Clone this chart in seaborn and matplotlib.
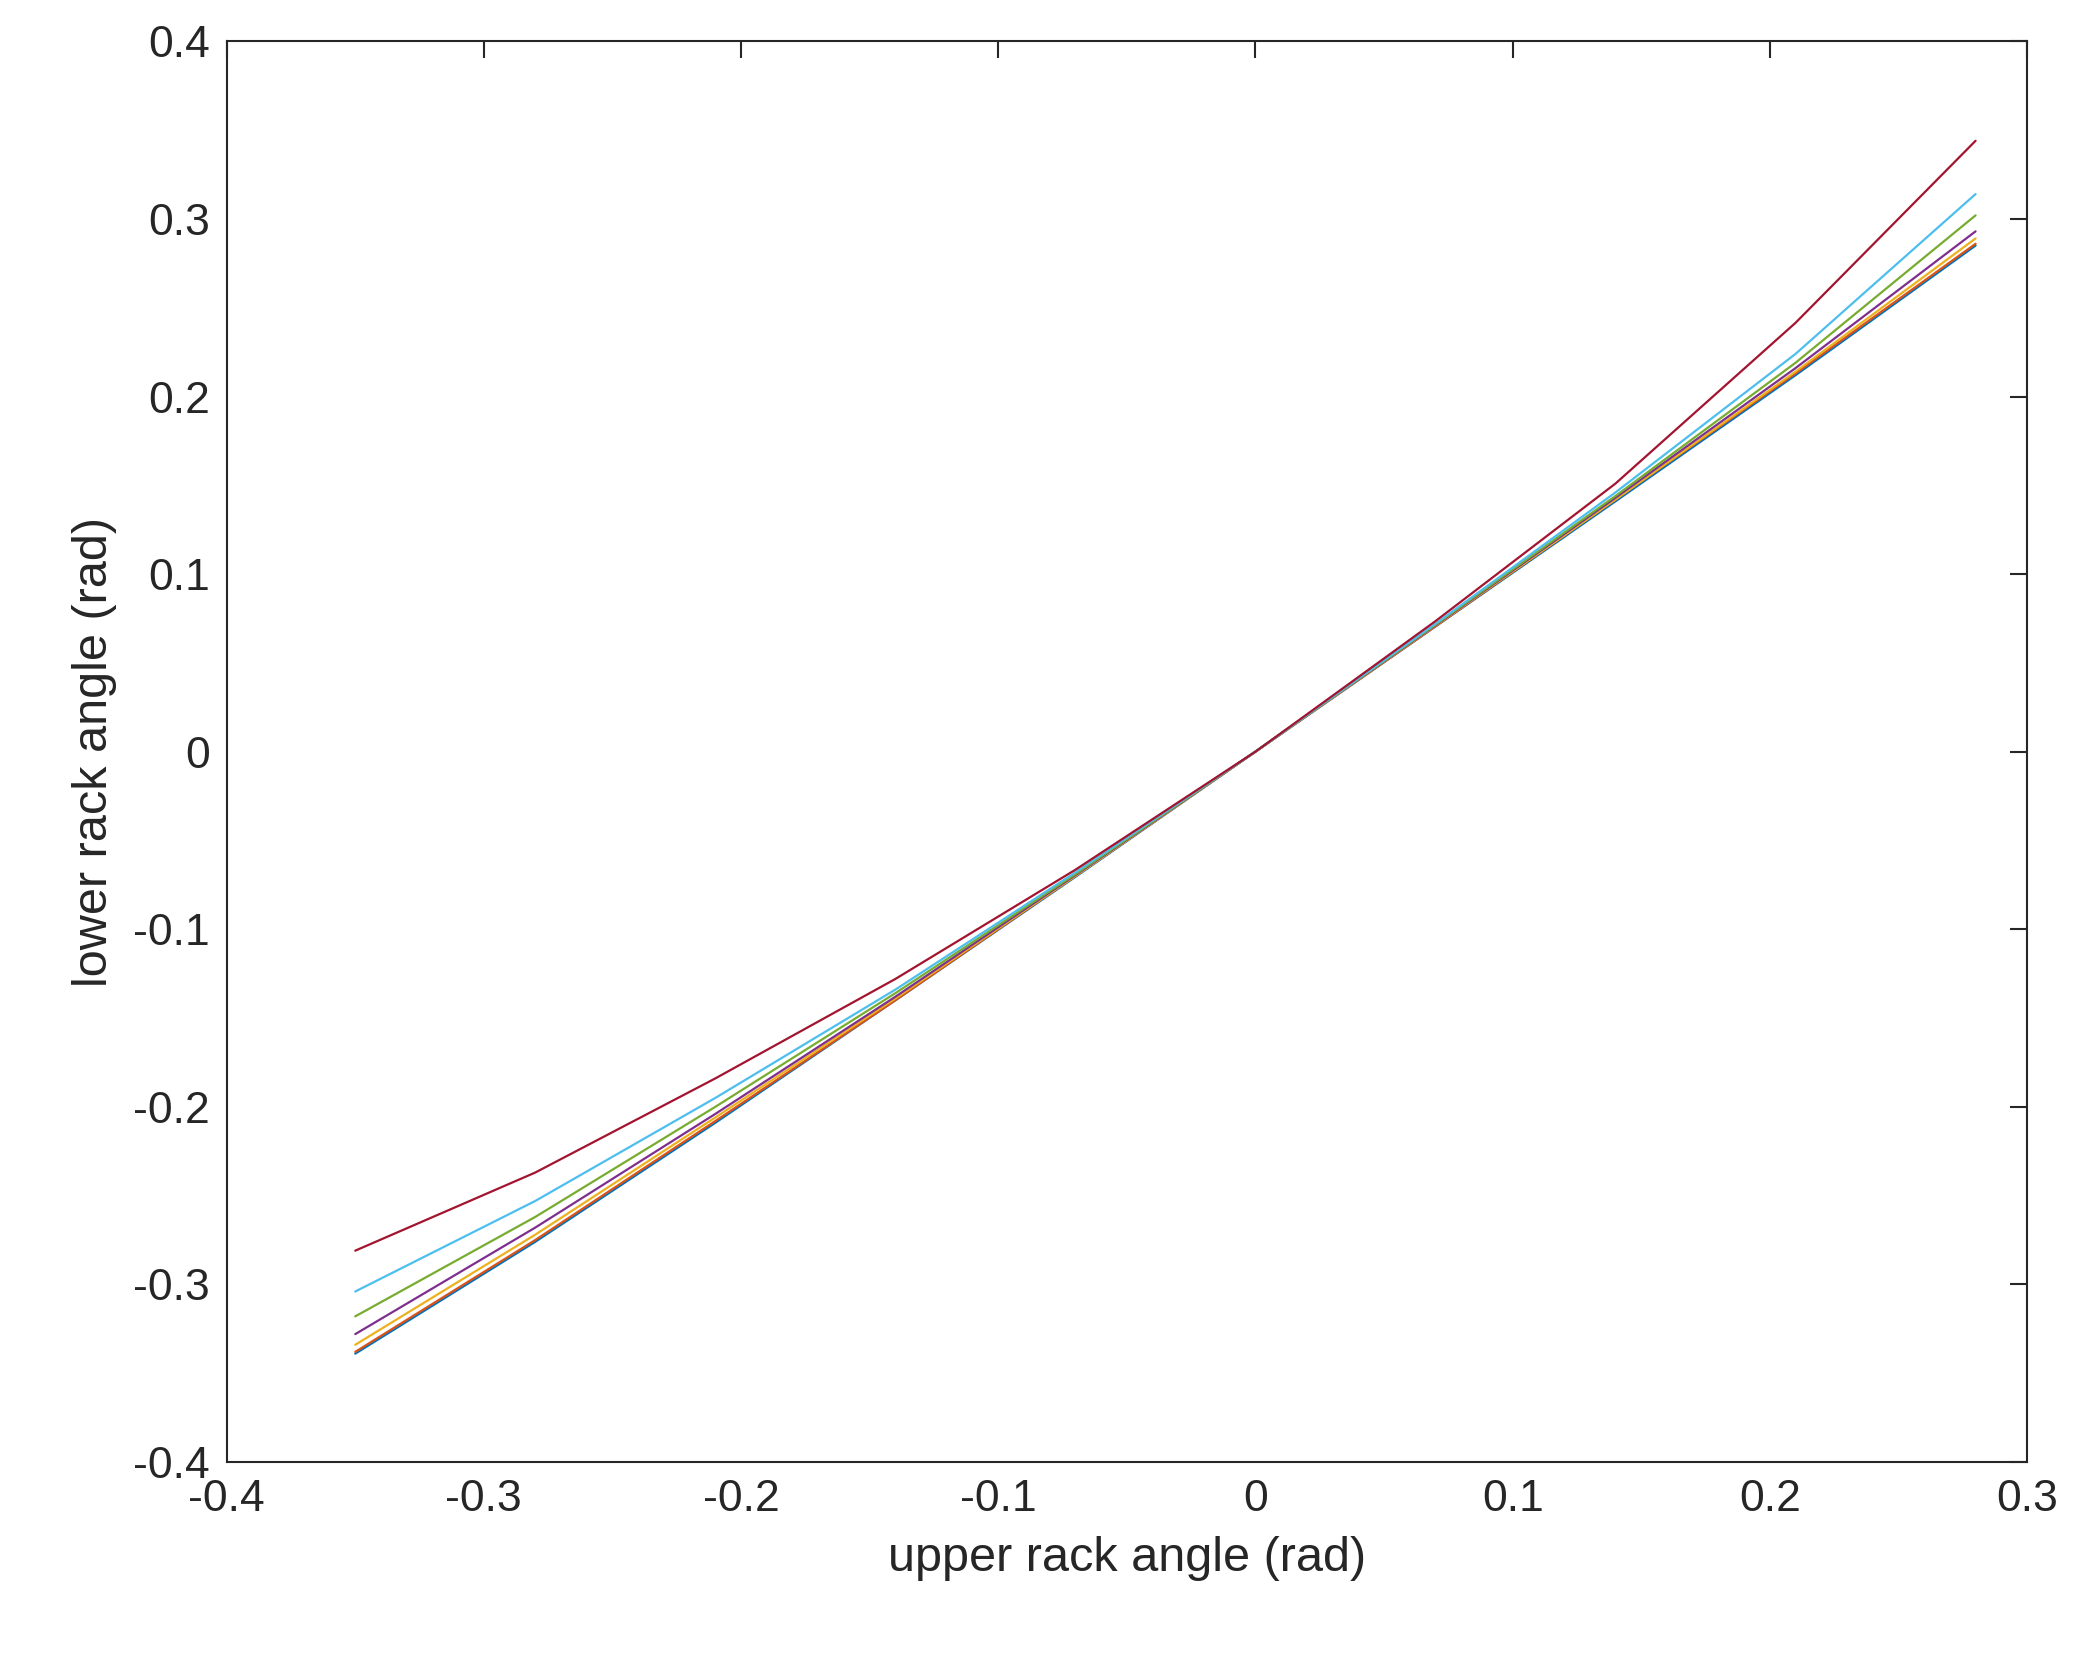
import matplotlib
matplotlib.use("Agg")
import matplotlib.pyplot as plt
import seaborn as sns
import pandas as pd

sns.set_style("white")
plt.rcParams['font.family'] = ['Liberation Sans', 'DejaVu Sans']

x = [-0.35, -0.28, -0.21, -0.14, -0.07, 0.0, 0.07, 0.14, 0.21, 0.28]
s_blue = [-0.339, -0.276, -0.209, -0.140, -0.0705, 0, 0.0705, 0.141, 0.212, 0.285]
s_orange = [-0.338, -0.275, -0.208, -0.140, -0.070, 0, 0.0706, 0.142, 0.213, 0.286]
s_yellow = [-0.334, -0.272, -0.206, -0.139, -0.070, 0, 0.071, 0.142, 0.214, 0.289]
s_purple = [-0.328, -0.268, -0.204, -0.138, -0.0695, 0, 0.0712, 0.143, 0.216, 0.293]
s_green = [-0.318, -0.262, -0.200, -0.136, -0.069, 0, 0.0715, 0.144, 0.219, 0.302]
s_lblue = [-0.304, -0.253, -0.195, -0.134, -0.068, 0, 0.072, 0.146, 0.224, 0.314]
s_red = [-0.281, -0.237, -0.184, -0.128, -0.0665, 0, 0.0735, 0.151, 0.2415, 0.344]

series = [s_blue, s_orange, s_yellow, s_purple, s_green, s_lblue, s_red]
colors = ["#0072BD", "#D95319", "#EDB120", "#7E2F8E", "#77AC30", "#4DBEEE", "#A2142F"]

fig = plt.figure(figsize=(20.91, 16.54), dpi=100)
ax = fig.add_axes([0.1084, 0.1161, 0.8610, 0.8589])
for s, c in zip(series, colors):
    df = pd.DataFrame({"x": x, "y": s})
    sns.lineplot(data=df, x="x", y="y", color=c, linewidth=1.6, ax=ax, sort=False)

ax.set_xlim(-0.4, 0.3)
ax.set_ylim(-0.4, 0.4)
xt = [-0.4, -0.3, -0.2, -0.1, 0, 0.1, 0.2, 0.3]
yt = [-0.4, -0.3, -0.2, -0.1, 0, 0.1, 0.2, 0.3, 0.4]
ax.set_xticks(xt)
ax.set_xticklabels(["-0.4", "-0.3", "-0.2", "-0.1", "0", "0.1", "0.2", "0.3"])
ax.set_yticks(yt)
ax.set_yticklabels(["-0.4", "-0.3", "-0.2", "-0.1", "0", "0.1", "0.2", "0.3", "0.4"])
ax.tick_params(direction="in", length=12, width=1.5, labelsize=32, top=True, right=True,
               colors="#262626", pad=12)
for sp in ax.spines.values():
    sp.set_color("#262626")
    sp.set_linewidth(1.5)
ax.set_xlabel("upper rack angle (rad)", fontsize=35, color="#262626", labelpad=12)
ax.set_ylabel("lower rack angle (rad)", fontsize=35, color="#262626", labelpad=12)
fig.savefig("out.png", dpi=100, facecolor="white")
